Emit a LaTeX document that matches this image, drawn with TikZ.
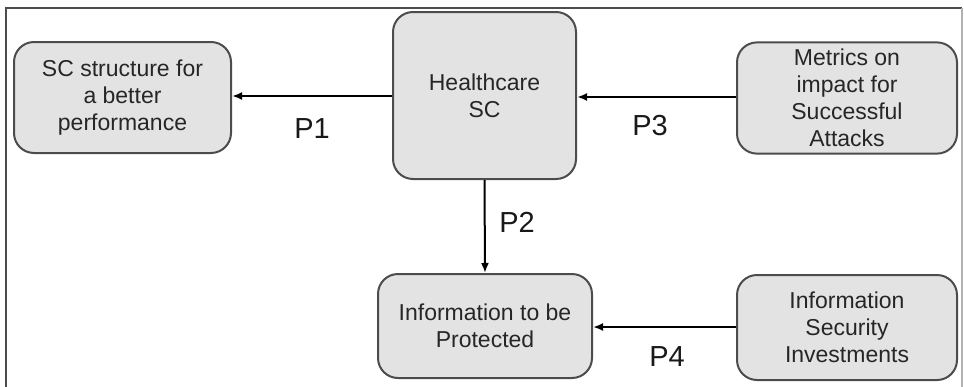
\documentclass[tikz,border=0pt]{standalone}
\usepackage{fontspec}
\setmainfont{Liberation Sans}
\usetikzlibrary{arrows.meta}

\tikzset{
  block/.style={draw=black!70, fill=black!11, line width=1pt, rounded corners=10pt,
    align=center, font=\fontsize{11.5}{13.5}\selectfont, text=black!85},
  link/.style={line width=1pt, -{Latex[length=5pt,width=4pt]}},
  plabel/.style={font=\fontsize{14.5}{17}\selectfont, text=black!90}
}

\begin{document}
\begin{tikzpicture}[x=0.5pt,y=-0.5pt]

    \useasboundingbox (0,0) rectangle (964,386);

    % Frame
    \draw[black!70, line width=0.8pt] (6,390) -- (6,8) -- (962,8);
    \draw[black!30, line width=0.8pt] (962,8) -- (962,390);

    % Boxes
    \node[block, minimum width=108.5pt, minimum height=55.5pt] (sc) at (122.5,97.5)
      {SC structure for\\a better\\performance};
    \node[block, minimum width=91.5pt, minimum height=83.5pt] (hc) at (484.5,95.5)
      {Healthcare\\SC};
    \node[block, minimum width=110pt, minimum height=55pt] (met) at (847,98)
      {Metrics on\\impact for\\Successful\\Attacks};
    \node[block, minimum width=107pt, minimum height=52pt] (info) at (485,326)
      {Information to be\\Protected};
    \node[block, minimum width=110pt, minimum height=52.5pt] (inv) at (847,327.5)
      {Information\\Security\\Investments};

    % Arrows
    \draw[link] (hc.west |- 0,96) -- (sc.east |- 0,96);
    \draw[link] (met.west |- 0,97) -- (hc.east |- 0,97);
    \draw[link] (hc.south) -- (info.north);
    \draw[link] (inv.west |- 0,327) -- (info.east |- 0,327);

    % Labels
    \node[plabel] (p1) at (312,129) {P1};
    \node[plabel] (p2) at (517,222) {P2};
    \node[plabel] (p3) at (650,126) {P3};
    \node[plabel] (p4) at (667,357) {P4};

\end{tikzpicture}
\end{document}
